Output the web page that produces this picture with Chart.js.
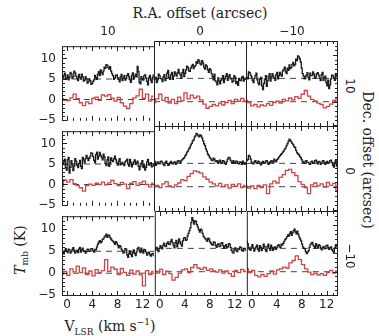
<!DOCTYPE html>
<html>
<head>
<meta charset="utf-8">
<script src="https://cdn.jsdelivr.net/npm/chart.js@4.4.0/dist/chart.umd.min.js"></script>
<style>
body { margin:0; background:#fff; }
#wrap { position:relative; width:379px; height:336px; overflow:hidden; background:#fff; }
#wrap canvas { position:absolute; }
.lbl { position:absolute; white-space:nowrap; color:#222; }
.num { font:12px "DejaVu Sans", sans-serif; }
.ttl { font:14px "DejaVu Serif", serif; }
</style>
</head>
<body>
<div id="wrap">
  <div class="lbl ttl" style="left:200px;top:13px;transform:translate(-50%,-50%)">R.A. offset (arcsec)</div>
  <div class="lbl ttl" style="left:368px;top:160px;transform:translate(-50%,-50%) rotate(90deg)">Dec. offset (arcsec)</div>
  <div class="lbl ttl" style="left:21px;top:250px;transform:translate(-50%,-50%) rotate(-90deg)"><i>T</i><sub style="font-size:9px">mb</sub> (K)</div>
  <div class="lbl ttl" style="left:110px;top:327px;transform:translate(-50%,-50%)">V<sub style="font-size:9px">LSR</sub> (km s<sup style="font-size:9px">&minus;1</sup>)</div>
</div>
<script>
// velocity channels (km/s)
var velBlack = [-0.8,-0.65,-0.5,-0.35,-0.2,-0.05,0.1,0.25,0.4,0.55,
  0.7,0.85,1.0,1.15,1.3,1.45,1.6,1.75,1.9,2.05,
  2.2,2.35,2.5,2.65,2.8,2.95,3.1,3.25,3.4,3.55,
  3.7,3.85,4.0,4.15,4.3,4.45,4.6,4.75,4.9,5.05,
  5.2,5.35,5.5,5.65,5.8,5.95,6.1,6.25,6.4,6.55,
  6.7,6.85,7.0,7.15,7.3,7.45,7.6,7.75,7.9,8.05,
  8.2,8.35,8.5,8.65,8.8,8.95,9.1,9.25,9.4,9.55,
  9.7,9.85,10.0,10.15,10.3,10.45,10.6,10.75,10.9,11.05,
  11.2,11.35,11.5,11.65,11.8,11.95,12.1,12.25,12.4,12.55,
  12.7,12.85,13.0,13.15,13.3,13.45,13.6,13.75];
var velRed = [-0.8,-0.3,0.2,0.7,1.2,1.7,2.2,2.7,3.2,3.7,4.2,4.7,5.2,5.7,6.2,6.7,7.2,7.7,8.2,8.7,9.2,9.7,10.2,10.7,11.2,11.7,12.2,12.7,13.2,13.7];

var raLabels = ['10', '0', '\u221210'];
var decLabels = ['10', '0', '\u221210'];
var xTicks = [0, 4, 8, 12];
var yTicks = [-5, 0, 5, 10];
var yTickLabels = ['\u22125', '0', '5', '10'];
var baseBlack = 5, baseRed = 0;
var vMin = -0.8, vMax = 13.8;

// Dec +10
var blk_dec10_ra10 = [4.6,5.3,5.8,6.4,4.9,5.2,6.0,4.8,5.4,6.6,6.3,5.1,5.6,6.9,6.5,5.7,5.2,4.6,6.1,5.4,5.0,6.2,5.5,4.5,4.7,5.6,5.1,4.0,4.3,5.0,4.6,3.7,3.9,4.4,4.8,5.9,5.3,4.9,6.2,6.8,5.8,7.2,6.6,6.1,7.0,7.9,7.6,8.5,8.3,7.8,7.4,8.0,6.9,6.3,5.8,4.9,5.2,5.9,6.0,5.3,4.9,4.3,5.5,6.1,4.6,5.2,5.8,4.7,5.1,5.9,6.3,5.5,4.8,4.2,5.9,6.5,5.0,5.6,6.2,5.5,8.1,6.8,4.2,3.8,5.6,5.0,4.7,5.8,6.0,5.2,4.4,3.6,5.3,5.9,4.7,4.1,5.4,6.0];
var red_dec10_ra10 = [0.2,-0.2,-0.3,0.4,1.3,0.2,-0.8,-1.5,-0.6,-1.0,0.3,0.6,-0.2,1.1,0.8,1.2,0.3,-0.4,0.5,-0.8,-1.6,-2.2,-1.0,0.4,0.9,2.5,0.3,1.3,-0.4,0.8];
var blk_dec10_ra0 = [4.4,4.9,5.2,4.1,4.7,5.9,5.6,5.0,4.9,4.3,5.3,5.8,4.5,5.0,6.1,6.7,5.2,4.8,5.8,6.3,4.8,5.5,6.4,5.9,5.5,6.2,6.9,6.1,5.7,5.0,6.2,6.9,5.4,6.1,6.8,7.6,7.3,6.6,6.5,7.2,7.6,8.0,7.1,7.5,7.8,8.6,8.2,9.0,8.7,8.1,7.9,8.8,8.3,7.4,7.0,7.9,7.6,6.8,6.3,7.1,6.8,6.0,5.4,4.7,5.9,4.5,4.2,3.6,5.1,4.4,3.8,4.6,4.9,5.6,4.1,4.9,5.5,6.0,4.6,5.3,5.8,4.9,5.0,4.2,4.4,5.6,5.2,3.9,4.3,3.5,5.0,4.6,4.5,5.2,5.4,4.4,4.8,5.1];
var red_dec10_ra0 = [-0.2,0.6,1.6,0.3,0.9,-0.3,0.5,-0.4,1.0,0.2,1.9,0.6,1.4,0.8,1.2,0.4,-0.5,-1.4,-1.0,-0.6,-0.9,-0.3,-0.7,-0.2,0.3,-0.4,0.5,0.1,0.7,0.3];
var blk_dec10_ram10 = [5.8,5.2,4.9,6.4,6.2,5.7,5.3,4.6,4.1,5.0,5.6,6.1,4.7,4.0,3.6,4.8,5.2,3.4,2.6,3.9,4.8,5.6,3.3,4.5,5.5,6.0,4.4,5.3,6.0,5.5,5.1,4.6,5.8,6.3,4.9,5.6,6.3,5.8,5.5,6.6,6.9,7.4,6.4,6.0,7.2,6.7,7.9,7.1,7.3,8.0,8.4,7.7,8.0,9.1,8.8,9.8,9.6,9.2,8.5,7.2,6.0,5.5,4.9,5.4,5.7,6.2,5.2,4.7,6.1,5.6,5.6,6.4,5.9,5.0,5.3,6.0,6.2,5.7,5.0,4.5,5.8,6.3,4.6,5.1,5.5,4.1,3.4,4.6,2.8,3.6,4.9,5.7,5.6,5.1,4.6,6.0,5.5,4.9];
var red_dec10_ram10 = [0.3,-0.2,-0.9,-0.6,-1.1,-0.7,-0.9,-0.4,-0.8,-0.2,0.1,-0.3,0.5,0.2,0.8,0.4,1.1,0.7,1.6,2.4,1.2,0.5,0.2,-0.3,-0.6,-1.3,-1.0,-0.5,0.3,0.6];

// Dec 0
var blk_dec0_ra10 = [4.6,5.0,5.5,6.2,4.1,3.5,6.0,6.6,2.8,4.2,5.8,5.0,3.4,4.5,6.3,5.7,4.7,4.1,5.1,5.9,4.4,3.9,6.6,6.0,5.3,6.3,7.1,6.5,5.8,6.4,6.9,7.7,7.6,6.8,5.9,5.3,7.3,7.9,6.2,6.9,7.8,7.1,6.6,6.0,7.4,6.7,5.1,4.6,6.0,6.7,4.4,5.2,6.5,5.9,5.6,6.3,6.9,6.1,5.2,4.7,5.7,6.3,4.8,5.2,5.4,4.9,4.6,5.5,5.8,6.2,5.0,4.5,6.1,5.4,4.3,4.9,5.5,6.0,4.9,5.3,5.7,4.5,3.6,4.4,5.2,5.8,4.1,4.8,3.5,4.2,5.5,6.1,4.7,5.0,5.3,4.3,4.5,5.1];
var red_dec0_ra10 = [-0.4,1.1,0.6,1.2,0.2,-0.3,-0.8,-1.6,-0.3,0.1,-0.2,0.3,0.0,0.6,-0.1,0.4,1.0,0.2,-0.3,0.5,0.1,-1.0,0.3,0.7,-0.2,0.4,0.8,0.0,-0.6,0.3];
var blk_dec0_ra0 = [5.1,5.4,4.6,4.9,5.3,5.0,4.9,5.4,5.5,5.1,4.8,4.5,5.2,5.5,5.0,4.6,4.7,5.1,5.4,5.0,4.9,5.2,5.3,4.8,5.1,5.5,5.6,5.3,5.2,5.6,5.8,6.0,6.2,6.6,6.9,7.4,7.6,8.1,8.4,8.9,9.3,9.8,10.0,10.6,10.9,11.4,11.2,10.9,10.7,11.1,10.9,10.4,9.8,9.2,8.8,8.1,7.6,7.0,6.7,6.3,6.0,5.7,5.6,6.1,5.9,5.5,5.3,5.6,5.0,5.4,5.7,5.1,5.2,5.6,5.5,5.0,4.8,5.3,5.9,6.3,6.2,5.7,5.3,5.0,5.6,5.2,5.0,5.5,5.4,5.0,4.9,5.3,5.2,4.8,5.5,5.1,4.8,5.2];
var red_dec0_ra0 = [0.0,0.3,-0.2,0.6,1.1,0.2,-0.1,0.4,0.8,1.5,1.3,2.2,2.8,3.4,3.2,2.9,2.1,1.6,1.0,0.6,0.2,0.7,0.0,0.4,-0.3,0.5,0.1,0.6,-0.2,0.3];
var blk_dec0_ram10 = [6.3,5.6,5.8,6.7,6.5,5.9,5.2,5.0,4.9,5.4,5.6,5.1,5.0,5.5,5.3,4.9,4.7,5.2,5.4,5.0,5.1,5.5,5.6,5.0,4.8,5.3,5.2,5.6,5.5,5.1,5.9,5.6,5.3,5.8,6.0,6.4,6.6,6.9,7.1,7.4,7.6,8.0,8.3,8.8,9.2,9.7,10.2,9.9,9.6,9.3,9.0,8.6,8.4,7.8,7.3,7.0,6.9,6.5,6.2,5.8,5.4,5.1,5.0,5.5,5.6,5.2,5.2,4.9,4.8,5.3,5.5,5.0,5.1,5.6,5.7,5.3,4.9,5.4,5.3,4.8,5.0,5.5,5.6,5.1,4.8,5.2,5.4,5.0,5.1,5.6,5.7,5.2,4.6,4.2,5.2,5.6,4.4,4.9];
var red_dec0_ram10 = [0.1,-0.3,0.2,-0.4,0.3,-0.2,0.4,-1.5,0.6,1.2,0.8,2.0,2.6,3.5,3.7,3.0,2.4,1.1,0.5,-0.2,-1.5,0.4,0.8,0.2,0.6,-0.1,0.9,0.3,0.7,-0.8];

// Dec -10
var blk_decm10_ra10 = [5.0,4.7,4.4,5.1,5.6,5.0,4.7,5.5,5.3,4.6,4.9,5.4,5.8,5.2,4.6,5.0,5.2,4.7,5.5,5.9,4.8,5.3,5.7,5.0,5.1,4.6,4.9,5.5,5.4,5.0,5.0,5.6,5.6,5.1,4.8,5.4,5.3,6.0,6.6,7.1,7.4,6.9,7.2,7.7,7.9,8.3,8.5,8.9,8.2,8.6,8.7,8.1,7.8,7.5,7.3,7.0,6.6,7.2,6.9,6.4,5.8,6.3,6.1,5.5,5.2,4.6,4.8,5.6,5.5,4.2,3.6,4.5,5.1,4.3,3.8,4.7,5.3,4.5,4.0,4.8,5.6,5.9,5.2,4.7,5.7,5.1,4.6,5.4,5.3,4.8,4.1,4.6,4.8,4.2,3.9,4.4,4.5,4.0];
var red_decm10_ra10 = [-0.2,0.4,-0.5,1.0,0.3,1.6,0.2,1.2,-0.3,0.5,-0.6,0.8,0.1,0.6,3.1,0.4,1.4,0.9,-0.3,1.1,0.2,-0.5,0.7,-0.2,0.5,-0.4,-2.9,0.6,-0.3,0.4];
var blk_decm10_ra0 = [4.5,4.9,5.2,4.6,4.3,5.0,5.6,5.2,4.9,5.7,6.1,5.5,5.4,6.0,6.4,5.9,5.8,6.5,6.9,6.2,5.6,5.1,6.2,6.7,5.3,6.1,7.0,6.4,5.9,5.5,6.6,7.2,7.3,6.7,6.8,7.6,8.2,8.8,9.4,10.5,11.6,11.0,10.2,10.9,10.8,10.1,9.6,9.0,8.5,9.1,8.9,8.2,7.6,7.3,7.1,6.8,6.5,7.2,7.0,6.4,6.1,5.8,5.7,6.4,6.3,5.6,5.2,5.8,6.0,5.4,5.5,6.1,6.2,5.6,5.0,5.5,5.8,5.1,5.3,6.0,5.9,5.2,4.6,4.2,4.0,4.7,5.1,4.5,4.3,4.9,4.8,5.3,5.2,4.6,4.4,5.0,4.9,4.5];
var red_decm10_ra0 = [0.2,-0.3,0.5,-0.6,0.1,-0.4,-1.8,-1.2,-0.3,0.4,0.6,-0.2,0.9,1.5,0.8,0.5,0.9,0.3,0.6,0.2,-0.1,0.4,-0.3,0.2,-0.4,-1.0,0.3,-0.2,0.5,0.1];
var blk_decm10_ram10 = [6.6,6.0,5.2,4.8,4.6,5.3,5.8,5.1,4.4,4.9,5.3,5.7,4.8,4.4,5.6,5.2,4.5,5.0,5.9,5.4,4.7,4.3,5.4,5.9,5.0,4.6,5.7,5.2,4.6,5.1,5.3,4.8,5.1,5.6,5.8,5.3,5.2,5.9,5.7,6.1,6.5,6.9,7.1,7.5,7.9,7.6,8.2,8.6,7.8,8.3,8.8,9.1,8.5,8.1,8.7,8.0,7.4,7.0,6.6,5.9,5.3,5.0,4.9,4.3,3.9,4.2,4.5,5.2,5.8,6.1,6.3,5.7,5.4,5.0,6.0,5.5,5.1,5.8,5.6,5.0,4.7,5.2,5.4,4.9,5.0,5.6,5.7,5.2,4.8,5.1,5.3,4.7,4.4,4.0,5.1,5.6,5.5,5.0];
var red_decm10_ram10 = [0.6,-0.2,0.3,-0.8,-1.1,-0.6,-1.0,-0.4,0.2,-0.5,0.4,0.6,1.0,0.8,1.9,2.4,3.4,2.6,1.5,0.6,-0.1,-0.6,-0.3,-0.7,-0.4,-0.8,-0.2,0.3,-0.3,0.2];

var panels = [
  [[blk_dec10_ra10, red_dec10_ra10], [blk_dec10_ra0, red_dec10_ra0], [blk_dec10_ram10, red_dec10_ram10]],
  [[blk_dec0_ra10, red_dec0_ra10], [blk_dec0_ra0, red_dec0_ra0], [blk_dec0_ram10, red_dec0_ram10]],
  [[blk_decm10_ra10, red_decm10_ra10], [blk_decm10_ra0, red_decm10_ra0], [blk_decm10_ram10, red_decm10_ram10]]
];

var wrap = document.getElementById('wrap');
var plotLeft = 62, plotTop = 41, panelW = 92, panelH = 85;

function xy(vel, vals) {
  return vals.map(function(v, i) { return {x: vel[i], y: v}; });
}

// panel frame (shared edges drawn once) + inward ticks
var framePlugin = {
  id: 'frame',
  afterDatasetsDraw: function(chart, args, opts) {
    var a = chart.chartArea, ctx = chart.ctx;
    var xs = chart.scales.x, ys = chart.scales.y;
    ctx.save();
    ctx.strokeStyle = '#222';
    ctx.lineWidth = 1;
    ctx.beginPath();
    ctx.moveTo(a.left + 0.5, a.bottom); ctx.lineTo(a.left + 0.5, a.top);
    ctx.moveTo(a.left, a.top + 0.5); ctx.lineTo(a.right, a.top + 0.5);
    if (opts.right) { ctx.moveTo(a.right - 0.5, a.top); ctx.lineTo(a.right - 0.5, a.bottom); }
    if (opts.bottom) { ctx.moveTo(a.left, a.bottom - 0.5); ctx.lineTo(a.right, a.bottom - 0.5); }
    for (var v = 0; v <= 13; v++) {
      var px = Math.round(xs.getPixelForValue(v)) + 0.5;
      var len = (v % 4 === 0) ? 5 : 3;
      ctx.moveTo(px, a.bottom); ctx.lineTo(px, a.bottom - len);
      ctx.moveTo(px, a.top); ctx.lineTo(px, a.top + len);
    }
    for (var w = -5; w <= 12; w++) {
      var py = Math.round(ys.getPixelForValue(w)) + 0.5;
      var l = (w % 5 === 0) ? 5 : 3;
      if (opts.left) { ctx.moveTo(a.left, py); ctx.lineTo(a.left + l, py); }
      if (opts.right) { ctx.moveTo(a.right, py); ctx.lineTo(a.right - l, py); }
    }
    ctx.stroke();
    ctx.restore();
  }
};

function makePanel(r, c) {
  var showY = c == 0, showX = r == 2;
  var padL = showY ? 34 : 0;
  var padT = showY ? 8 : 0;
  var padB = showX ? 22 : (showY ? 8 : 0);
  var cv = document.createElement('canvas');
  cv.width = panelW + padL;
  cv.height = panelH + padT + padB;
  cv.style.left = (plotLeft + c * panelW - padL) + 'px';
  cv.style.top = (plotTop + r * panelH - padT) + 'px';
  wrap.appendChild(cv);

  var spec = panels[r][c];
  new Chart(cv, {
    type: 'line',
    data: {
      datasets: [
        { data: xy(velBlack, spec[0]), borderColor: '#1c1c1c', borderWidth: 1.3, stepped: 'middle', pointRadius: 0, order: 1 },
        { data: xy(velRed, spec[1]), borderColor: '#d04646', borderWidth: 1.3, stepped: 'middle', pointRadius: 0, order: 1 },
        { data: [{x: vMin, y: baseBlack}, {x: vMax, y: baseBlack}], borderColor: '#444', borderWidth: 1, borderDash: [6, 5], pointRadius: 0, order: 2 },
        { data: [{x: vMin, y: baseRed}, {x: vMax, y: baseRed}], borderColor: '#444', borderWidth: 1, borderDash: [6, 5], pointRadius: 0, order: 2 }
      ]
    },
    options: {
      responsive: false,
      animation: false,
      devicePixelRatio: 1,
      layout: { autoPadding: false, padding: { top: padT, bottom: (showX ? 0 : padB), left: 0, right: 0 } },
      plugins: {
        legend: { display: false },
        tooltip: { enabled: false },
        frame: { left: c == 0, right: c == 2, bottom: r == 2 }
      },
      scales: {
        x: {
          type: 'linear', min: vMin, max: vMax,
          display: showX,
          grid: { display: false, drawTicks: false },
          border: { display: false },
          afterBuildTicks: function(s) { s.ticks = xTicks.map(function(v) { return {value: v}; }); },
          afterFit: function(s) { s.height = showX ? 22 : 0; },
          ticks: { padding: 2, maxRotation: 0, autoSkip: false, color: '#222',
            font: { family: 'DejaVu Sans', size: 12 },
            callback: function(v) { return String(v); } }
        },
        y: {
          type: 'linear', min: -5.2, max: 13,
          display: showY,
          grid: { display: false, drawTicks: false },
          border: { display: false },
          afterBuildTicks: function(s) { s.ticks = yTicks.map(function(v) { return {value: v}; }); },
          afterFit: function(s) { s.width = showY ? 34 : 0; },
          ticks: { padding: 6, autoSkip: false, color: '#222',
            font: { family: 'DejaVu Sans', size: 12 },
            callback: function(v) { return yTickLabels[yTicks.indexOf(v)]; } }
        }
      }
    },
    plugins: [framePlugin]
  });
}

for (var r = 0; r < 3; r++) {
  for (var c = 0; c < 3; c++) makePanel(r, c);
}

// offset labels along top (R.A.) and right (Dec.)
raLabels.forEach(function(t, i) {
  var d = document.createElement('div');
  d.className = 'lbl num';
  d.textContent = t;
  d.style.left = (plotLeft + i * panelW + panelW / 2) + 'px';
  d.style.top = '31px';
  d.style.transform = 'translate(-50%,-50%)';
  wrap.appendChild(d);
});
decLabels.forEach(function(t, i) {
  var d = document.createElement('div');
  d.className = 'lbl num';
  d.textContent = t;
  d.style.left = '350px';
  d.style.top = (plotTop + i * panelH + panelH / 2 + 2) + 'px';
  d.style.transform = 'translate(-50%,-50%) rotate(90deg)';
  wrap.appendChild(d);
});
</script>
</body>
</html>
